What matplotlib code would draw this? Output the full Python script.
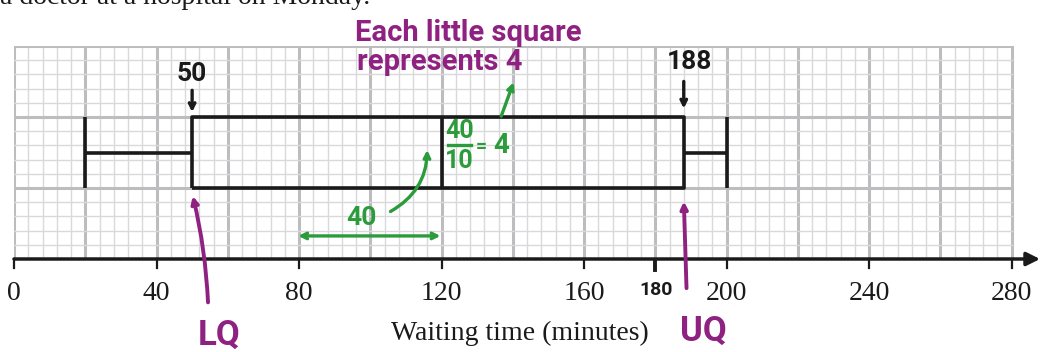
import matplotlib.pyplot as plt
import numpy as np

# five number summary (minutes)
stats_names = ['min', 'LQ', 'median', 'UQ', 'max']
stats_values = [20, 50, 120, 188, 200]
tick_values = [0, 40, 80, 120, 160, 200, 240, 280]
tick_labels = ['0', '40', '80', '120', '160', '200', '240', '280']

purple = '#8f2180'
green = '#2b9b3b'
hand = ['Roboto', 'DejaVu Sans']
serif = ['Liberation Serif', 'DejaVu Serif']

fig = plt.figure(figsize=(10.42, 3.52), dpi=100)
ax = fig.add_axes([14 / 1042, 93 / 352, 1026 / 1042, 213 / 352])
ax.set_xlim(0, 288)
ax.set_ylim(0, 60)
ax.axis('off')

# graph paper
for x in np.arange(0, 281, 4):
    major = x % 20 == 0
    ax.plot([x, x], [0, 60], color='#bdbdbf' if major else '#d9d9db',
            lw=2.2 if major else 1.0, zorder=1)
for y in np.arange(0, 61, 4):
    major = y % 20 == 0
    ax.plot([0, 280], [y, y], color='#bdbdbf' if major else '#d9d9db',
            lw=2.2 if major else 1.0, zorder=1)

# x axis with arrow
ax.annotate('', xy=(288, 0), xytext=(0, 0), annotation_clip=False,
            arrowprops=dict(arrowstyle='-|>,head_length=0.8,head_width=0.4',
                            color='#1a1a1a', lw=2.5, shrinkA=0, shrinkB=0))
for t, lab in zip(tick_values, tick_labels):
    ax.plot([t, t], [0, -2.4], color='#1a1a1a', lw=1.6, clip_on=False)
    ax.text(t, -6.2, lab, ha='center', va='top', fontsize=20,
            family=serif, color='#1a1a1a')
ax.text(142, -17.5, 'Waiting time (minutes)', ha='center', va='top',
        fontsize=20, family=serif, color='#1a1a1a')

# box plot
mn, lq, med, uq, mx = stats_values
kw = dict(color='#1a1a1a', lw=2.6, zorder=3, solid_capstyle='butt')
ax.plot([lq, uq, uq, lq, lq], [20, 20, 40, 40, 20], **kw)
ax.plot([med, med], [20, 40], **kw)
ax.plot([mn, lq], [30, 30], **kw)
ax.plot([uq, mx], [30, 30], **kw)
ax.plot([mn, mn], [20, 40], **kw)
ax.plot([mx, mx], [20, 40], **kw)

# top question text (cut off in the source too)
fig.text(0.0, 0.99, 'a doctor at a hospital on Monday.', ha='left',
         va='baseline', fontsize=20, family=serif, color='#1a1a1a')

# handwritten notes
ax.text(127.5, 63.8, 'Each little square', ha='center', va='center',
        fontsize=21, family=hand, color=purple, fontweight='bold')
ax.text(119.5, 55.6, 'represents 4', ha='center', va='center',
        fontsize=21, family=hand, color=purple, fontweight='bold')

ax.text(50, 52, '50', ha='center', va='center', fontsize=19,
        family=hand, color='#1a1a1a', fontweight='bold')
ax.annotate('', xy=(50, 40.6), xytext=(50, 48.3), annotation_clip=False,
            arrowprops=dict(arrowstyle='->', color='#1a1a1a', lw=2.4))
ax.text(189.5, 55.5, '188', ha='center', va='center', fontsize=19,
        family=hand, color='#1a1a1a', fontweight='bold')
ax.annotate('', xy=(188, 41.6), xytext=(188, 50.8), annotation_clip=False,
            arrowprops=dict(arrowstyle='->', color='#1a1a1a', lw=2.4))

ax.text(125, 36, '40', ha='center', va='center', fontsize=18,
        family=hand, color=green, fontweight='bold')
ax.plot([121.8, 128.2], [32, 32], color=green, lw=2.4)
ax.text(125, 27.6, '10', ha='center', va='center', fontsize=18,
        family=hand, color=green, fontweight='bold')
ax.text(131.3, 31.6, '=', ha='center', va='center', fontsize=14,
        family=hand, color=green, fontweight='bold')
ax.text(136.8, 32, '4', ha='center', va='center', fontsize=20,
        family=hand, color=green, fontweight='bold')
ax.annotate('', xy=(140.5, 50.5), xytext=(136.5, 39.5), annotation_clip=False,
            arrowprops=dict(arrowstyle='->', color=green, lw=2.4))
ax.annotate('', xy=(116, 31.5), xytext=(105, 13), annotation_clip=False,
            arrowprops=dict(arrowstyle='->', color=green, lw=2.4,
                            connectionstyle='arc3,rad=0.3'))
ax.text(97.5, 11.5, '40', ha='center', va='center', fontsize=19,
        family=hand, color=green, fontweight='bold')
ax.annotate('', xy=(120.5, 6.5), xytext=(79, 6.5), annotation_clip=False,
            arrowprops=dict(arrowstyle='<->', color=green, lw=2.4))

ax.annotate('', xy=(50, 18.5), xytext=(54.5, -13), annotation_clip=False,
            arrowprops=dict(arrowstyle='->', color=purple, lw=2.8,
                            connectionstyle='arc3,rad=0.05'))
ax.text(57.5, -21.5, 'LQ', ha='center', va='center', fontsize=25,
        family=hand, color=purple, fontweight='bold')
ax.annotate('', xy=(188, 17), xytext=(188.8, -9), annotation_clip=False,
            arrowprops=dict(arrowstyle='->', color=purple, lw=2.8))
ax.text(193.5, -20.5, 'UQ', ha='center', va='center', fontsize=25,
        family=hand, color=purple, fontweight='bold')

ax.plot([180, 180], [-0.5, -3], color='#1a1a1a', lw=2.8, clip_on=False)
ax.text(180.2, -8.8, '180', ha='center', va='center', fontsize=14,
        family=hand, color='#1a1a1a', fontweight='bold')

fig.savefig('out.png', dpi=100, facecolor='white')
